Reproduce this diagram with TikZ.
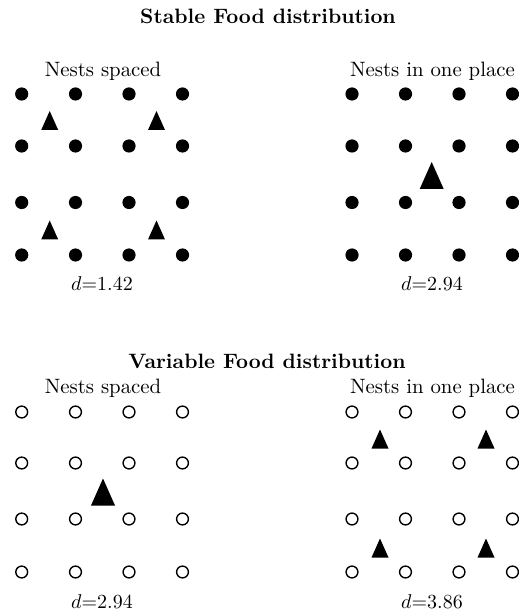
\documentclass[tikz,border=0pt]{standalone}
\begin{document}
\begin{tikzpicture}[x=0.5pt,y=-0.5pt,
  fdot/.style={circle,fill=black,inner sep=0pt,minimum size=6.6pt},
  odot/.style={circle,draw=black,line width=0.7pt,inner sep=0pt,minimum size=5.9pt},
  lbl/.style={anchor=base,inner sep=0pt,font=\fontsize{10.4}{12}\selectfont},
  ttl/.style={anchor=base,inner sep=0pt,font=\fontsize{10.4}{12}\selectfont\bfseries},
  smalltri/.pic={\fill (-8.5,9.5) -- (8.5,9.5) -- (0,-9.5) -- cycle;},
  bigtri/.pic={\fill (-12,13.5) -- (12,13.5) -- (0,-13.5) -- cycle;}]
\useasboundingbox (0,0) rectangle (518,614);
% titles
\node[ttl] (t1) at (268,24) {Stable Food distribution};
\node[ttl] (t2) at (267,368.5) {Variable Food distribution};
% labels
\node[lbl] (l1) at (103,77) {Nests spaced};
\node[lbl] (l2) at (432.5,77) {Nests in one place};
\node[lbl] (l3) at (103,393) {Nests spaced};
\node[lbl] (l4) at (432.5,393) {Nests in one place};
\node[lbl] (d1) at (102,290) {$d{=}1.42$};
\node[lbl] (d2) at (432,290) {$d{=}2.94$};
\node[lbl] (d3) at (102,608.5) {$d{=}2.94$};
\node[lbl] (d4) at (432,608.5) {$d{=}3.86$};
% top-left grid
\foreach \x [count=\i] in {21.7,75.5,129,182.5}
  \foreach \y [count=\j] in {94,146,202.5,255}
    \node[fdot] (a\i\j) at (\x,\y) {};
% top-right grid
\foreach \x [count=\i] in {352,405.5,459,512.5}
  \foreach \y [count=\j] in {94,146,202.5,255}
    \node[fdot] (b\i\j) at (\x,\y) {};
% bottom-left grid
\foreach \x [count=\i] in {21.7,75.5,129,182.5}
  \foreach \y [count=\j] in {412,463,519,572}
    \node[odot] (c\i\j) at (\x,\y) {};
% bottom-right grid
\foreach \x [count=\i] in {352,405.5,459,512.5}
  \foreach \y [count=\j] in {412,463,519,572}
    \node[odot] (e\i\j) at (\x,\y) {};
% triangles
\pic at (49.7,120.5) {smalltri};
\pic at (156.5,120.5) {smalltri};
\pic at (49.7,230) {smalltri};
\pic at (156.5,230) {smalltri};
\pic at (431.7,175.5) {bigtri};
\pic at (103,492) {bigtri};
\pic at (380,439) {smalltri};
\pic at (486,439) {smalltri};
\pic at (380,548) {smalltri};
\pic at (486,548) {smalltri};
\end{tikzpicture}
\end{document}
